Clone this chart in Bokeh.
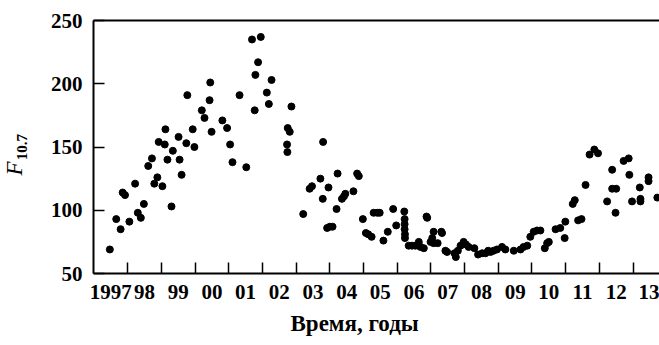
from bokeh.plotting import figure
from bokeh.models import FixedTicker, LinearAxis, Range1d, Title
from bokeh.embed import file_html
from bokeh.resources import INLINE

# ---- data ----
years = [
    1997.47, 1997.66, 1997.79, 1997.85, 1997.92, 1998.05, 1998.22, 1998.30, 1998.39, 1998.48,
    1998.61, 1998.72, 1998.79, 1998.88, 1998.92, 1999.03, 1999.10, 1999.12, 1999.18, 1999.30,
    1999.34, 1999.51, 1999.54, 1999.60, 1999.74, 1999.77, 1999.93, 1999.98, 2000.20, 2000.28,
    2000.43, 2000.45, 2000.49, 2000.81, 2000.95, 2001.04, 2001.11, 2001.32, 2001.52, 2001.69,
    2001.77, 2001.79, 2001.87, 2001.95, 2002.13, 2002.19, 2002.27, 2002.73, 2002.74, 2002.75,
    2002.81, 2002.86, 2003.21, 2003.40, 2003.47, 2003.72, 2003.79, 2003.80, 2003.92, 2003.96,
    2004.00, 2004.08, 2004.20, 2004.23, 2004.36, 2004.42, 2004.46, 2004.70, 2004.81, 2004.86,
    2004.98, 2005.07, 2005.14, 2005.24, 2005.30, 2005.41, 2005.48, 2005.59, 2005.72, 2005.88,
    2005.97, 2006.21, 2006.22, 2006.22, 2006.22, 2006.23, 2006.23, 2006.34, 2006.44, 2006.54,
    2006.64, 2006.69, 2006.79, 2006.87, 2006.89, 2006.99, 2007.04, 2007.08, 2007.08, 2007.20,
    2007.31, 2007.33, 2007.43, 2007.48, 2007.70, 2007.74, 2007.80, 2007.88, 2007.97, 2008.04,
    2008.12, 2008.29, 2008.40, 2008.52, 2008.62, 2008.70, 2008.77, 2008.86, 2008.96, 2009.11,
    2009.21, 2009.46, 2009.66, 2009.75, 2009.86, 2009.95, 2010.05, 2010.15, 2010.25, 2010.38,
    2010.45, 2010.50, 2010.70, 2010.84, 2010.97, 2010.99, 2011.21, 2011.27, 2011.37, 2011.47,
    2011.59, 2011.71, 2011.85, 2011.96, 2012.23, 2012.38, 2012.38, 2012.48, 2012.50, 2012.72,
    2012.87, 2012.89, 2012.97, 2013.20, 2013.22, 2013.22, 2013.46, 2013.46, 2013.72,
]
f107 = [
    69, 93, 85, 114, 112, 91, 121, 98, 94, 105,
    135, 141, 121, 126, 154, 119, 152, 164, 140, 103,
    147, 158, 140, 128, 153, 191, 164, 150, 179, 173,
    187, 201, 162, 171, 165, 152, 138, 191, 134, 235,
    179, 207, 217, 237, 193, 184, 203, 152, 146, 165,
    162, 182, 97, 117, 119, 125, 109, 154, 86, 118,
    87, 87, 101, 129, 109, 111, 113, 115, 129, 127,
    93, 82, 81, 79, 98, 98, 98, 76, 83, 101,
    88, 99, 93, 89, 85, 81, 78, 72, 72, 72,
    75, 71, 70, 95, 94, 75, 78, 74, 83, 74,
    83, 82, 68, 67, 66, 63, 68, 72, 75, 73,
    71, 70, 65, 66, 66, 68, 67, 68, 69, 71,
    69, 68, 69, 71, 72, 79, 83, 84, 84, 70,
    74, 75, 85, 86, 78, 91, 105, 108, 92, 93,
    120, 144, 148, 145, 107, 132, 117, 98, 117, 139,
    141, 128, 107, 118, 109, 107, 126, 123, 110,
]
year_labels = ["1997", "98", "99", "00", "01", "02", "03", "04", "05",
               "06", "07", "08", "09", "10", "11", "12", "13"]
first_year = 1997
y_ticks = [50, 100, 150, 200, 250]
x_title = "Время, годы"
y_title_main = "F"
y_title_sub = "10.7"

FONT = "Liberation Serif"

X0, X1 = 1996.985, 2013.785
Y0, Y1 = 50, 250
p = figure(width=659, height=345, x_range=Range1d(X0, X1), y_range=Range1d(Y0, Y1),
           output_backend="svg", toolbar_location=None,
           min_border_left=93, min_border_right=0, min_border_top=20, min_border_bottom=72)
p.outline_line_color = None
p.xgrid.visible = False
p.ygrid.visible = False
p.background_fill_color = "white"
p.border_fill_color = "white"

p.scatter(years, f107, size=7, color="black", marker="circle")

# x axis: labels centred within each year, ticks at year boundaries
mid = [first_year + i + 0.5 for i in range(len(year_labels))]
bounds = [first_year + i for i in range(1, len(year_labels) + 1)]
xa = p.xaxis[0]
xa.ticker = FixedTicker(ticks=mid, minor_ticks=bounds)
xa.major_label_overrides = {m: lab for m, lab in zip(mid, year_labels)}
xa.major_tick_in = 0
xa.major_tick_out = 0
xa.minor_tick_in = 11
xa.minor_tick_out = 0
xa.minor_tick_line_width = 1.5
xa.minor_tick_line_color = "black"
xa.axis_line_width = 2
xa.axis_line_color = "black"
xa.major_label_standoff = 11
xa.major_label_text_font = FONT
xa.major_label_text_font_style = "bold"
xa.major_label_text_font_size = "21px"
xa.major_label_text_color = "black"

ya = p.yaxis[0]
ya.ticker = FixedTicker(ticks=y_ticks, minor_ticks=[])
ya.major_tick_in = 11
ya.major_tick_out = 0
ya.major_tick_line_width = 1.5
ya.major_tick_line_color = "black"
ya.minor_tick_in = 0
ya.minor_tick_out = 0
ya.axis_line_width = 2
ya.axis_line_color = "black"
ya.major_label_standoff = 11
ya.major_label_text_font = FONT
ya.major_label_text_font_style = "bold"
ya.major_label_text_font_size = "21px"
ya.major_label_text_color = "black"
# subscript part of the y title as the axis label
ya.axis_label = y_title_sub
ya.axis_label_standoff = 21
ya.axis_label_text_font = FONT
ya.axis_label_text_font_style = "bold"
ya.axis_label_text_font_size = "15px"
ya.axis_label_text_color = "black"

top = LinearAxis(ticker=FixedTicker(ticks=[], minor_ticks=[]), axis_line_width=2,
                 axis_line_color="black", major_tick_in=0, major_tick_out=0,
                 minor_tick_in=0, minor_tick_out=0, major_label_text_font_size="0px")
p.add_layout(top, "above")

# axis titles as Titles in the side panels (offset from the frame's start)
p.add_layout(Title(text=x_title, align="left", offset=197, text_font=FONT,
                   text_font_style="bold", text_font_size="23px", text_color="black",
                   standoff=15), "below")
p.add_layout(Title(text=y_title_main, align="left", offset=98, text_font=FONT,
                   text_font_style="italic", text_font_size="23px", text_color="black",
                   standoff=-26), "left")

open("out.html", "w").write(file_html(p, INLINE))
